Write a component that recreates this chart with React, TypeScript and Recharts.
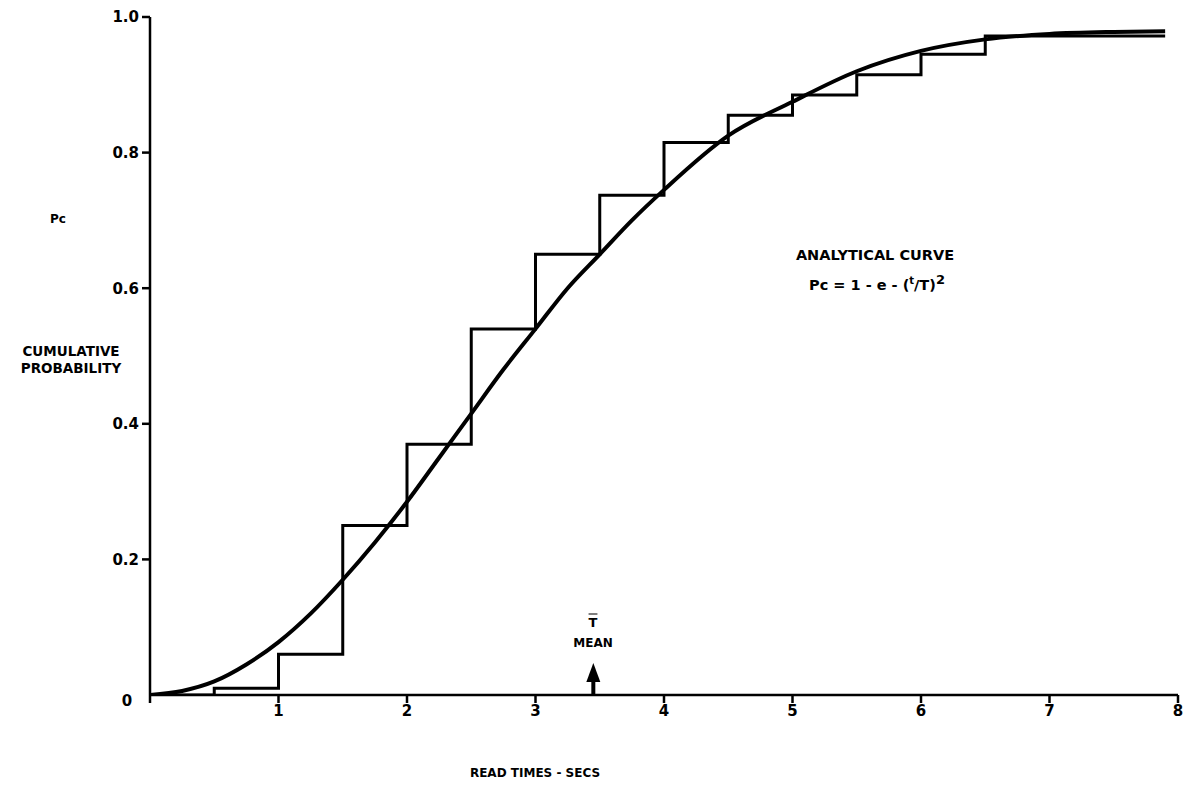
import { ComposedChart, Line, XAxis, YAxis } from 'recharts';

const xTicks = [0, 1, 2, 3, 4, 5, 6, 7, 8];
const yTicks = [0.2, 0.4, 0.6, 0.8, 1.0];

// observed cumulative read-time distribution (staircase)
const stepTimes = [0, 0.5, 1, 1.5, 2, 2.5, 3, 3.5, 4, 4.5, 5, 5.5, 6, 6.5, 7.9];
const stepProbs = [0, 0.01, 0.06, 0.25, 0.37, 0.54, 0.65, 0.737, 0.815, 0.855, 0.885, 0.915, 0.945, 0.972, 0.972];

// analytical curve
const curveTimes = [0, 0.25, 0.5, 0.75, 1, 1.25, 1.5, 1.75, 2, 2.25, 2.5, 2.75, 3, 3.25, 3.5, 3.75, 4, 4.5, 5, 5.5, 6, 6.5, 7, 7.5, 7.9];
const curveProbs = [0, 0.006, 0.02, 0.045, 0.078, 0.12, 0.17, 0.225, 0.285, 0.35, 0.415, 0.48, 0.54, 0.6, 0.65, 0.7, 0.745, 0.825, 0.875, 0.92, 0.95, 0.967, 0.975, 0.978, 0.979];

const meanTime = 3.45;
const arrowProbs = [0, 0.022];

const stepData = stepTimes.map((t, i) => ({ t, p: stepProbs[i] }));
const curveData = curveTimes.map((t, i) => ({ t, p: curveProbs[i] }));
const arrowData = arrowProbs.map((p) => ({ t: meanTime, p }));

const font = '"DejaVu Sans", "Open Sans", sans-serif';

const ArrowHead = (props: any) => {
  const { cx, cy, index } = props;
  if (index !== 1) return <g key={`a${index}`} />;
  return <path key="head" d={`M${cx - 7},${cy + 2} L${cx},${cy - 17} L${cx + 7},${cy + 2} Z`} fill="#000" />;
};

const txt = (left: number, top: number, size = 13): React.CSSProperties => ({
  position: 'absolute',
  left: left - 8,
  top: top - 8,
  transform: 'translate(-50%, -50%)',
  fontFamily: font,
  fontWeight: 700,
  fontSize: size,
  color: '#000',
  whiteSpace: 'nowrap',
  lineHeight: 1,
});

export default function App() {
  return (
    <div style={{ position: 'relative', width: 1187, height: 781, background: '#fff' }}>
      <ComposedChart width={1187} height={781} margin={{ top: 9, right: 17, left: 0, bottom: 64 }}>
        <XAxis
          type="number"
          dataKey="t"
          domain={[0, 8]}
          ticks={xTicks}
          allowDataOverflow
          tickFormatter={(v: number) => (v === 0 ? '' : String(v))}
          axisLine={{ stroke: '#000', strokeWidth: 2.5 }}
          tickLine={{ stroke: '#000', strokeWidth: 2.5 }}
          tickSize={8}
          tick={{ fill: '#000', fontSize: 15, fontWeight: 700, fontFamily: font }}
          height={30}
        />
        <YAxis
          type="number"
          dataKey="p"
          domain={[0, 1]}
          ticks={yTicks}
          allowDataOverflow
          tickFormatter={(v: number) => v.toFixed(1)}
          axisLine={{ stroke: '#000', strokeWidth: 2.5 }}
          tickLine={{ stroke: '#000', strokeWidth: 2.5 }}
          tickSize={8}
          tickMargin={3}
          tick={{ fill: '#000', fontSize: 15, fontWeight: 700, fontFamily: font }}
          width={142}
        />
        <Line
          data={stepData}
          dataKey="p"
          type="stepAfter"
          stroke="#000"
          strokeWidth={3}
          dot={false}
          activeDot={false}
          isAnimationActive={false}
        />
        <Line
          data={curveData}
          dataKey="p"
          type="monotone"
          stroke="#000"
          strokeWidth={4}
          dot={false}
          activeDot={false}
          isAnimationActive={false}
        />
        <Line
          data={arrowData}
          dataKey="p"
          type="linear"
          stroke="#000"
          strokeWidth={4}
          dot={<ArrowHead />}
          activeDot={false}
          isAnimationActive={false}
        />
      </ComposedChart>
      <div style={txt(127, 701, 15)}>0</div>
      <div style={txt(58, 219, 12)}>Pc</div>
      <div style={txt(71, 352, 13.5)}>CUMULATIVE</div>
      <div style={txt(71, 369, 13.5)}>PROBABILITY</div>
      <div style={txt(875, 255, 14.5)}>ANALYTICAL CURVE</div>
      <div style={txt(877, 283, 14.5)}>
        Pc = 1 - e - (<sup style={{ fontSize: 10 }}>t</sup>/T)<sup style={{ fontSize: 13 }}>2</sup>
      </div>
      <div style={txt(593, 622, 13)}>
        <span style={{ textDecoration: 'overline' }}>T</span>
      </div>
      <div style={txt(593, 643, 12)}>MEAN</div>
      <div style={txt(535, 773, 12)}>READ TIMES - SECS</div>
    </div>
  );
}
